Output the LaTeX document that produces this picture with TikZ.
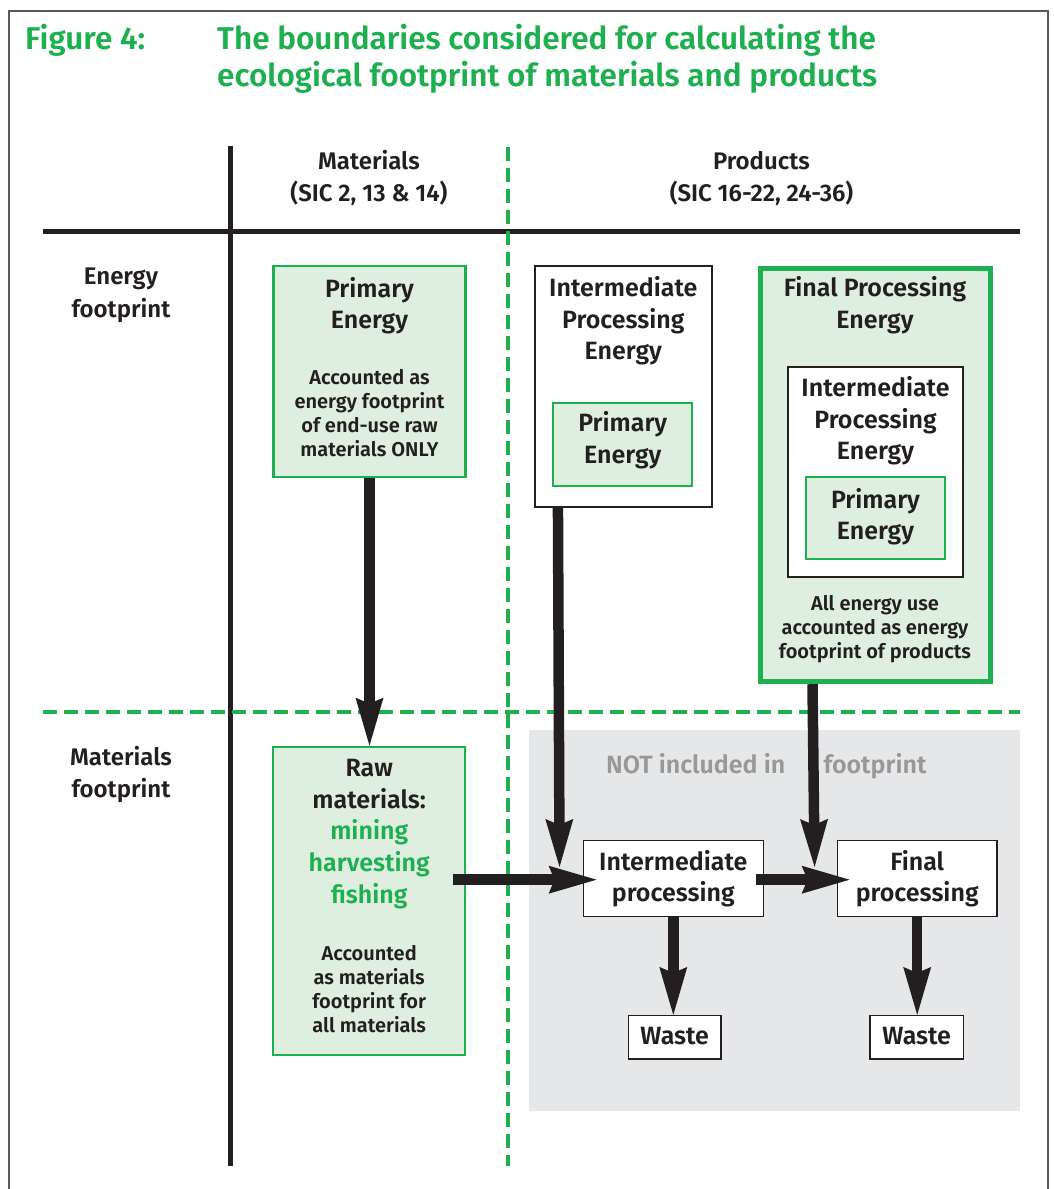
\documentclass[tikz,border=0pt]{standalone}
\usepackage{fontspec}
\setmainfont{Fira Sans}[BoldFont={Fira Sans SemiBold}]
\usetikzlibrary{calc}
\usetikzlibrary{arrows.meta}
\definecolor{fpgreen}{RGB}{30,176,80}
\definecolor{fplight}{RGB}{222,239,223}
\definecolor{fpgrey}{RGB}{230,231,232}
\definecolor{fpgreytext}{RGB}{152,152,152}
\definecolor{fpblack}{RGB}{35,31,32}
\definecolor{fpframe}{RGB}{90,90,90}

\begin{document}
\begin{tikzpicture}[x=1pt,y=-1pt,inner sep=0pt,
  every node/.style={align=center,text=fpblack,font=\bfseries\fontsize{25}{31.6}\selectfont},
  lab/.style={anchor=base},
  small/.style={anchor=base,font=\bfseries\fontsize{20}{23.8}\selectfont},
  head/.style={anchor=base,font=\bfseries\fontsize{24}{32.2}\selectfont},
  gbox/.style={draw=fpgreen,line width=2.2pt,fill=fplight},
  kbox/.style={draw=fpblack,line width=2pt,fill=white},
  pbox/.style={draw=fpblack,line width=1.5pt,fill=white},
  flow/.style={draw=fpblack,line width=10.5pt,-{Stealth[length=48pt,width=28pt,inset=6pt,line width=0pt]}},
  gdash/.style={draw=fpgreen,line width=4.5pt,dash pattern=on 14pt off 7pt}]
\useasboundingbox (0,0) rectangle (1054,1189);
\draw[fpframe,line width=1.5pt] (9,1200) -- (9,11) -- (1048,11) -- (1048,1200);

\node[anchor=base west,text=fpgreen,font=\bfseries\fontsize{31.5}{37}\selectfont] (fig) at (25,49) {Figure 4:};
\node[anchor=base west,align=left,text=fpgreen,font=\bfseries\fontsize{31.5}{37}\selectfont] (ttl) at (217,86) {The boundaries considered for calculating the\\ecological footprint of materials and products};

\draw[fpblack,line width=4.5pt] (230.5,146) -- (230.5,1166);
\draw[fpblack,line width=4.5pt] (43,231.7) -- (1020,231.7);
\draw[gdash] (508,147) -- (508,1166);
\draw[gdash] (43,712) -- (1020,712);

\node[head] (mat) at (369,201.7) {Materials\\(SIC 2, 13 \& 14)};
\node[head] (prod) at (761.5,201.7) {Products\\(SIC 16-22, 24-36)};
\node[head] (en) at (121,317) {Energy\\footprint};
\node[head] (mf) at (121,797.5) {Materials\\footprint};

\fill[fpgrey] (529,730) rectangle (1020,1111);
\node[anchor=base west,text=fpgreytext] (nt1) at (606,773) {NOT included in};
\node[anchor=base west,text=fpgreytext] (nt2) at (823.3,773) {footprint};

\node[gbox,minimum width=192pt,minimum height=211pt] (pe) at (369.5,371.7) {};
\node[lab] (peT) at (369.5,328.9) {Primary\\Energy};
\node[small] (peS) at (369.5,456) {Accounted as\\energy footprint\\of end-use raw\\materials ONLY};

\node[kbox,minimum width=176.7pt,minimum height=240.7pt] (ipe) at (623.3,386.3) {};
\node[lab] (ipeT) at (623.3,359.9) {Intermediate\\Processing\\Energy};
\node[gbox,minimum width=139pt,minimum height=82.4pt] (ipp) at (622.8,444.5) {};
\node[lab] (ippT) at (622.8,463.3) {Primary\\Energy};

\node[gbox,line width=5pt,minimum width=230pt,minimum height=413.4pt] (fpe) at (875,475) {};
\node[lab] (fpeT) at (875,328.3) {Final Processing\\Energy};
\node[kbox,minimum width=175.6pt,minimum height=210pt] (fpi) at (875.5,472.3) {};
\node[lab] (fpiT) at (875.5,459.9) {Intermediate\\Processing\\Energy};
\node[gbox,minimum width=139pt,minimum height=81.7pt] (fpp) at (875.5,518.2) {};
\node[lab] (fppT) at (875.5,539.9) {Primary\\Energy};
\node[small] (fpeS) at (875,658.5) {All energy use\\accounted as energy\\footprint of products};

\node[gbox,minimum width=191.7pt,minimum height=308.3pt] (raw) at (369.2,900.9) {};
\node[lab] (rawT) at (369.2,903.1) {Raw\\materials:\\\textcolor{fpgreen}{mining}\\\textcolor{fpgreen}{harvesting}\\\textcolor{fpgreen}{fishing}};
\node[small] (rawS) at (369.2,1032.3) {Accounted\\as materials\\footprint for\\all materials};

\node[pbox,minimum width=180pt,minimum height=76pt] (ip) at (673.3,878.7) {};
\node[lab] (ipT) at (673.3,901.6) {Intermediate\\processing};
\node[pbox,minimum width=159.7pt,minimum height=76pt] (fp) at (917.2,878.7) {};
\node[lab] (fpT) at (917.2,901.6) {Final\\processing};
\node[pbox,minimum width=92.7pt,minimum height=43.3pt] (w1) at (674.7,1037.3) {};
\node[lab] (w1T) at (674.7,1044) {Waste};
\node[pbox,minimum width=93.3pt,minimum height=43.3pt] (w2) at (916.7,1037.3) {};
\node[lab] (w2T) at (916.7,1044) {Waste};

\draw[flow] (pe.south) -- (pe.south |- raw.north);
\draw[flow] ($(ipe.south west)+(24,0)$) -- ($(ip.north west)+(-23,27)$);
\draw[flow] ($(fpe.south west)+(55,0)$) -- ($(fp.north west)+(-22,27)$);
\draw[flow] ($(raw.east |- ip.west)+(-13,1)$) -- ($(ip.west)+(14,1)$);
\draw[flow] ($(ip.east)+(-8,1)$) -- ($(fp.west)+(13,1)$);
\draw[flow] (ip.south) -- (ip.south |- w1.north);
\draw[flow] (fp.south) -- (fp.south |- w2.north);
\end{tikzpicture}
\end{document}
